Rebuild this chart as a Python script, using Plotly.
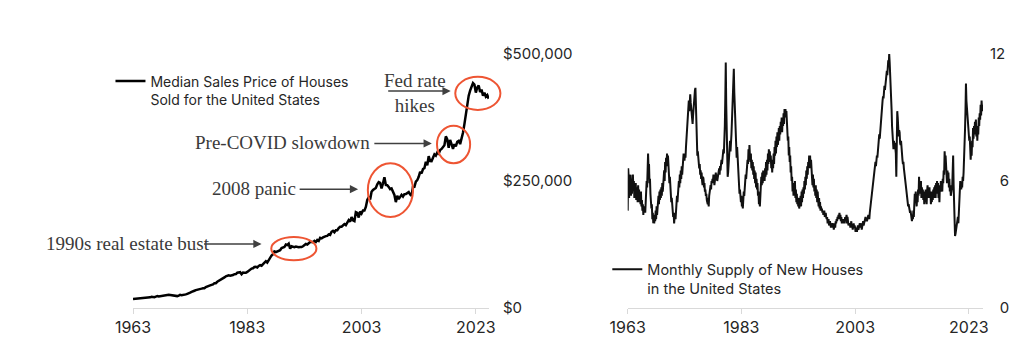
import numpy as np
import plotly.graph_objects as go

# ---------------- DATA ----------------
# Median Sales Price of Houses Sold for the United States (quarterly, from 1963 Q1, USD)
price_start_year = 1963
price_usd = [
    17800, 18000, 17900, 18500,   # 1963
    18500, 18900, 18900, 19400,   # 1964
    20200, 19800, 20200, 20300,   # 1965
    21000, 22100, 21500, 21300,   # 1966
    22300, 23300, 22500, 23200,   # 1967
    23900, 25100, 25100, 25600,   # 1968
    25700, 25900, 25400, 24300,   # 1969
    23900, 24400, 23200, 23400,   # 1970
    24300, 25800, 25300, 25500,   # 1971
    26200, 26800, 27900, 28400,   # 1972
    30200, 31700, 33500, 34000,   # 1973
    35200, 35600, 36200, 37200,   # 1974
    38100, 39000, 38800, 41200,   # 1975
    42800, 44200, 44400, 45500,   # 1976
    46300, 48900, 48800, 51600,   # 1977
    53000, 55300, 56100, 57800,   # 1978
    60200, 62300, 64000, 64200,   # 1979
    63700, 64000, 64900, 66400,   # 1980
    66800, 69400, 69200, 70400,   # 1981
    66400, 69600, 69300, 69300,   # 1982
    71000, 73600, 74900, 77600,   # 1983
    78200, 80700, 81000, 79900,   # 1984
    82800, 84300, 83200, 86800,   # 1985
    88000, 92100, 89500, 94400,   # 1986
    97900, 103400, 106000, 111300,  # 1987
    110000, 111600, 113600, 113700,  # 1988
    118000, 118900, 120000, 124800,  # 1989
    123900, 126800, 117000, 121500,  # 1990
    120000, 119900, 121000, 120000,  # 1991
    119500, 120000, 120000, 121500,  # 1992
    123500, 126000, 125000, 127000,  # 1993
    130000, 130000, 129700, 132000,  # 1994
    130000, 133900, 132000, 138000,  # 1995
    137000, 139000, 141000, 141500,  # 1996
    142000, 145000, 144000, 150000,  # 1997
    152000, 149000, 153000, 153000,  # 1998
    157400, 160000, 160000, 163200,  # 1999
    165300, 163200, 168800, 172900,  # 2000
    169800, 179000, 172500, 171100,  # 2001
    188700, 187200, 178100, 190100,  # 2002
    186000, 191800, 191900, 198800,  # 2003
    212700, 217600, 213500, 228800,  # 2004
    232500, 233700, 236400, 243600,  # 2005
    247700, 246300, 235600, 245400,  # 2006
    257400, 242200, 241800, 238400,  # 2007
    233900, 235300, 226500, 222500,  # 2008
    208400, 220900, 214300, 219000,  # 2009
    222900, 219500, 224100, 224300,  # 2010
    226900, 228100, 223500, 221100,  # 2011
    238400, 238700, 248800, 251700,  # 2012
    258400, 268100, 264800, 273600,  # 2013
    275200, 288000, 281000, 298900,  # 2014
    289200, 289100, 295800, 302500,  # 2015
    299800, 306000, 303800, 310900,  # 2016
    313100, 318200, 320500, 337900,  # 2017
    331800, 315600, 330900, 322800,  # 2018
    313000, 322500, 318400, 327100,  # 2019
    329000, 322600, 331500, 345000,  # 2020
    362000, 380000, 405000, 418000,  # 2021
    428000, 437000, 443000, 440000,  # 2022
    424000, 434000, 438000, 425000,  # 2023
    430000, 418000, 424000, 416000,  # 2024
    419000, 412000,                  # 2025
]

# Monthly Supply of New Houses in the United States (months, monthly from Jan 1963)
supply_start_year = 1963
supply_months = [
    4.6, 6.6, 6.2, 5.2, 6.1, 5.5, 6.3, 5.3, 6.1, 5.4, 5.8, 6.3,   # 1963
    5.6, 6.0, 5.2, 5.8, 5.4, 5.9, 5.1, 5.7, 5.5, 5.0, 5.8, 5.2,   # 1964
    5.6, 5.0, 5.4, 4.9, 5.5, 4.8, 5.1, 4.6, 4.9, 4.4, 4.8, 4.5,   # 1965
    4.8, 4.5, 5.3, 5.0, 6.0, 5.7, 7.0, 7.3, 6.6, 6.8, 5.9, 6.1,   # 1966
    5.4, 5.2, 4.7, 4.9, 4.2, 4.5, 4.0, 4.3, 4.0, 4.4, 4.1, 4.6,   # 1967
    4.2, 4.8, 4.4, 5.0, 4.7, 5.3, 4.9, 5.5, 5.1, 5.6, 5.2, 5.7,   # 1968
    5.3, 5.9, 5.5, 6.2, 5.8, 6.5, 6.0, 6.9, 6.4, 7.1, 6.7, 7.3,   # 1969
    6.8, 7.2, 6.3, 6.7, 5.9, 6.2, 5.5, 5.8, 5.0, 5.2, 4.6, 4.8,   # 1970
    4.3, 4.5, 4.0, 4.3, 4.5, 4.2, 4.9, 4.7, 5.3, 5.0, 5.7, 5.5,   # 1971
    6.0, 5.7, 6.3, 5.9, 6.5, 6.1, 6.7, 6.3, 6.9, 6.6, 7.3, 7.0,   # 1972
    7.0, 7.3, 7.1, 7.6, 7.9, 8.2, 8.6, 9.0, 9.4, 9.8, 9.3, 9.7,   # 1973
    10.1, 9.7, 9.4, 9.0, 8.8, 8.7, 9.1, 9.5, 9.8, 10.0, 10.3, 10.4,  # 1974
    9.6, 8.4, 7.9, 7.2, 7.4, 6.9, 7.0, 6.6, 6.8, 6.3, 6.5, 6.1,   # 1975
    6.4, 6.0, 5.8, 6.2, 6.1, 5.7, 5.9, 5.5, 5.6, 5.3, 5.4, 5.1,   # 1976
    5.0, 4.9, 5.2, 4.8, 5.3, 5.5, 5.4, 5.8, 5.6, 6.0, 5.9, 6.1,   # 1977
    6.0, 6.3, 6.1, 5.8, 6.0, 6.2, 6.4, 6.1, 6.3, 6.0, 6.2, 6.5,   # 1978
    6.4, 6.6, 6.3, 6.7, 6.5, 6.8, 7.0, 6.8, 7.2, 7.1, 7.5, 7.3,   # 1979
    7.8, 8.6, 9.9, 11.6, 9.6, 8.1, 7.0, 6.2, 6.4, 6.9, 7.3, 7.6,  # 1980
    7.9, 7.4, 7.7, 8.2, 8.8, 9.4, 9.9, 10.6, 11.3, 10.2, 9.5, 9.1,  # 1981
    8.4, 7.4, 7.1, 7.6, 7.0, 6.6, 6.2, 5.7, 5.4, 5.6, 5.2, 5.0,   # 1982
    5.3, 4.8, 5.0, 4.7, 5.2, 5.5, 5.3, 6.0, 5.8, 6.3, 6.1, 6.6,   # 1983
    6.4, 7.0, 6.8, 7.5, 7.0, 7.7, 7.2, 6.9, 7.3, 6.6, 7.0, 6.5,   # 1984
    6.9, 6.3, 6.7, 6.1, 6.5, 5.9, 6.4, 5.7, 6.1, 5.6, 5.9, 5.3,   # 1985
    5.5, 4.9, 5.2, 4.8, 5.7, 5.4, 6.2, 5.8, 6.4, 5.9, 6.5, 6.1,   # 1986
    6.4, 6.0, 6.6, 6.2, 6.9, 6.3, 7.0, 6.5, 7.3, 6.8, 7.5, 7.0,   # 1987
    7.4, 6.9, 7.2, 6.6, 7.0, 6.4, 6.9, 6.6, 7.3, 6.8, 7.6, 7.2,   # 1988
    7.9, 7.3, 8.1, 7.6, 8.3, 7.7, 8.0, 8.5, 7.9, 8.6, 8.2, 8.8,   # 1989
    8.5, 9.0, 8.3, 8.9, 8.6, 9.2, 8.7, 9.4, 9.0, 9.4, 9.1, 9.3,   # 1990
    8.6, 8.9, 7.9, 8.1, 7.2, 7.6, 6.9, 7.2, 6.4, 6.7, 6.0, 6.2,   # 1991
    5.5, 5.9, 5.3, 5.8, 5.4, 6.0, 5.2, 5.6, 5.0, 5.4, 4.9, 5.2,   # 1992
    4.8, 5.2, 4.7, 5.1, 4.9, 5.3, 4.8, 5.5, 5.0, 5.6, 5.2, 5.7,   # 1993
    5.4, 6.0, 5.6, 6.2, 5.8, 6.5, 6.1, 6.7, 6.3, 6.9, 6.6, 7.2,   # 1994
    6.9, 7.2, 6.6, 7.0, 6.3, 6.6, 5.8, 6.3, 5.7, 6.1, 5.5, 5.8,   # 1995
    5.3, 5.8, 5.2, 5.6, 5.0, 5.5, 5.1, 4.8, 5.2, 4.7, 5.0, 4.6,   # 1996
    4.8, 4.6, 4.7, 4.5, 4.6, 4.4, 4.5, 4.6, 4.3, 4.4, 4.5, 4.3,   # 1997
    4.2, 4.3, 4.0, 4.1, 4.2, 3.9, 4.0, 4.1, 3.9, 3.8, 4.0, 3.9,   # 1998
    3.8, 3.9, 4.0, 3.7, 3.9, 4.0, 3.8, 4.1, 4.0, 4.2, 4.1, 4.3,   # 1999
    4.2, 4.4, 4.3, 4.5, 4.2, 4.4, 4.1, 4.3, 4.0, 4.2, 4.1, 4.0,   # 2000
    4.1, 4.2, 4.0, 4.3, 4.1, 4.2, 4.4, 4.0, 4.3, 4.1, 3.9, 4.0,   # 2001
    3.9, 4.0, 3.8, 3.9, 4.1, 3.8, 3.9, 3.7, 3.9, 4.0, 3.8, 3.9,   # 2002
    3.8, 3.6, 3.7, 3.8, 3.6, 3.8, 3.9, 3.7, 3.8, 3.9, 4.0, 3.8,   # 2003
    3.9, 4.0, 3.7, 3.8, 4.0, 4.1, 3.9, 4.1, 4.0, 4.2, 4.3, 4.1,   # 2004
    4.2, 4.1, 4.3, 4.2, 4.4, 4.3, 4.2, 4.5, 4.7, 4.6, 4.9, 5.1,   # 2005
    5.3, 5.6, 5.7, 5.9, 6.2, 6.5, 6.7, 6.9, 6.7, 7.0, 7.2, 7.1,   # 2006
    7.4, 7.7, 7.9, 8.2, 8.0, 8.4, 8.6, 9.0, 9.2, 9.5, 9.8, 10.0,  # 2007
    9.9, 10.2, 10.5, 10.3, 10.6, 10.9, 11.0, 11.2, 11.0, 11.4, 11.7, 11.5,  # 2008
    12.0, 11.6, 11.2, 10.6, 10.1, 9.4, 8.6, 8.0, 7.7, 7.5, 7.9, 7.6,  # 2009
    7.8, 7.5, 7.3, 6.2, 8.4, 9.3, 9.0, 8.6, 8.1, 8.4, 8.3, 7.8,   # 2010
    7.7, 7.9, 7.3, 7.1, 7.0, 6.8, 6.9, 6.6, 6.3, 6.1, 6.0, 5.8,   # 2011
    5.6, 5.3, 5.0, 5.1, 4.8, 4.9, 4.7, 4.6, 4.5, 4.6, 4.4, 4.3,   # 2012
    4.1, 4.4, 4.2, 4.6, 4.3, 4.9, 5.4, 5.0, 5.5, 5.1, 4.8, 5.3,   # 2013
    5.0, 5.6, 5.3, 6.2, 5.5, 5.9, 5.4, 6.0, 5.2, 5.7, 5.3, 5.6,   # 2014
    5.1, 5.5, 4.9, 5.4, 5.0, 5.6, 5.2, 4.9, 5.5, 5.8, 5.2, 5.6,   # 2015
    5.3, 5.7, 5.2, 5.5, 4.9, 5.4, 5.0, 5.5, 5.1, 5.6, 5.2, 5.7,   # 2016
    5.4, 5.8, 5.2, 5.9, 5.4, 6.0, 5.5, 5.9, 5.2, 5.6, 5.0, 5.8,   # 2017
    5.5, 6.0, 5.6, 5.9, 5.5, 6.1, 5.9, 6.5, 6.3, 7.4, 6.9, 7.2,   # 2018
    6.4, 6.8, 5.9, 6.5, 6.0, 6.4, 5.7, 6.1, 5.5, 5.8, 5.3, 5.6,   # 2019
    5.6, 5.7, 6.7, 7.2, 5.8, 4.6, 3.7, 3.4, 3.5, 3.7, 4.0, 4.2,   # 2020
    4.1, 4.3, 4.0, 4.5, 5.0, 5.5, 6.0, 5.8, 5.6, 5.9, 5.7, 6.2,   # 2021
    6.0, 6.4, 6.9, 7.8, 8.4, 9.3, 10.6, 9.8, 9.5, 9.1, 8.6, 8.3,  # 2022
    8.3, 7.9, 8.1, 7.4, 7.0, 7.6, 7.2, 7.9, 7.6, 8.5, 8.0, 8.6,   # 2023
    8.2, 8.8, 8.3, 8.9, 8.1, 8.6, 7.9, 8.5, 8.2, 9.0, 8.6, 9.2,   # 2024
    8.9, 9.6, 9.1, 9.8, 9.4, 9.6, 9.3,                             # 2025
]

year_ticks = [1963, 1983, 2003, 2023]
price_ticks = [0, 250000, 500000]
supply_ticks = [0, 6, 12]
supply_tick_text = ["\u20070", "\u20076", "12"]

price_name = "Median Sales Price of Houses<br>Sold for the United States"
supply_name = "Monthly Supply of New Houses<br>in the United States"

# callouts: (label, arrow tip year, arrow tip value)
callouts = [
    ("1990s real estate bust", 1985.5, 126000),
    ("2008 panic", 2002.4, 234000),
    ("Pre-COVID slowdown", 2015.3, 324000),
    ("Fed rate<br>hikes", 2018.6, 427000),
]
# highlighted episodes: (year0, year1, value0, value1)
episodes = [
    (1987.2, 1995.1, 94000, 140000),
    (2004.1, 2012.0, 179000, 285000),
    (2016.2, 2022.0, 285000, 359000),
    (2019.4, 2027.3, 390000, 455000),
]

# ---------------- FIGURE ----------------
price_x = price_start_year + np.arange(len(price_usd)) / 4.0
supply_x = supply_start_year + np.arange(len(supply_months)) / 12.0

L_DOM = [0.0, 0.4188]
R_DOM = [0.582, 1.0]
L_RNG = [1963, 2025.3]
R_RNG = [1963, 2025.5]
P_MAX = 500000

SANS = "Inter, 'Liberation Sans', Arial, sans-serif"
SERIF = "'Liberation Serif', 'DejaVu Serif', serif"
TXT = "#262626"
AXIS = "#d9d9d9"
RED = "#EE5533"

fig = go.Figure()
fig.add_trace(go.Scatter(x=price_x, y=price_usd, mode="lines", name=price_name,
                         line=dict(color="black", width=2.5), xaxis="x", yaxis="y",
                         legend="legend"))
fig.add_trace(go.Scatter(x=supply_x, y=supply_months, mode="lines", name=supply_name,
                         line=dict(color="#111111", width=2.0), xaxis="x2", yaxis="y2",
                         legend="legend2"))

xcommon = dict(tickmode="array", tickvals=year_ticks, ticktext=[str(t) for t in year_ticks],
               showline=True, linecolor=AXIS, linewidth=1, ticks="outside", ticklen=5,
               tickcolor=AXIS, showgrid=False, zeroline=False,
               tickfont=dict(family=SANS, size=16, color=TXT), ticklabelstandoff=0)

# the page body adds an 8px offset; margins compensate so the plot sits where it should
fig.update_layout(
    width=1024, height=363,
    margin=dict(l=125, r=49, t=46, b=63),
    paper_bgcolor="white", plot_bgcolor="white",
    xaxis=dict(domain=L_DOM, range=L_RNG, anchor="y", **xcommon),
    xaxis2=dict(domain=R_DOM, range=R_RNG, anchor="y2", **xcommon),
    yaxis=dict(domain=[0, 1], range=[0, P_MAX], side="right", anchor="x",
               tickmode="array", tickvals=price_ticks, tickformat="$,.0f",
               showgrid=False, zeroline=False, showline=False, ticks="",
               tickfont=dict(family=SANS, size=15, color=TXT), ticklabelstandoff=13),
    yaxis2=dict(domain=[0, 1], range=[0, 12], side="right", anchor="x2",
                tickmode="array", tickvals=supply_ticks, ticktext=supply_tick_text,
                showgrid=False, zeroline=False, showline=False, ticks="",
                tickfont=dict(family=SANS, size=15, color=TXT), ticklabelstandoff=6),
    legend=dict(x=-0.0265, y=0.955, xanchor="left", yanchor="top", valign="top",
                bgcolor="rgba(0,0,0,0)", borderwidth=0,
                font=dict(family=SANS, size=14, color=TXT)),
    legend2=dict(x=0.558, y=0.215, xanchor="left", yanchor="top", valign="top",
                 bgcolor="rgba(0,0,0,0)", borderwidth=0,
                 font=dict(family=SANS, size=14.5, color=TXT)),
    showlegend=True,
)


def px_x(year):
    return L_DOM[0] + (year - L_RNG[0]) / (L_RNG[1] - L_RNG[0]) * (L_DOM[1] - L_DOM[0])


def px_y(value):
    return value / P_MAX


# episode ellipses
for (y0, y1, v0, v1) in episodes:
    fig.add_shape(type="circle", xref="paper", yref="paper",
                  x0=px_x(y0), x1=px_x(y1), y0=px_y(v0), y1=px_y(v1),
                  line=dict(color=RED, width=2))

# callout text (paper positions) and arrows
text_pos = [
    (-0.105, 0.2547, "left"),
    (0.0902, 0.4724, "left"),
    (0.0706, 0.6508, "left"),
    (0.3322, 0.8453, "center"),
]
arrow_len = [59, 60, 59, 64]
for (label, ty, tv), (tx, tyy, anc), alen in zip(callouts, text_pos, arrow_len):
    fig.add_annotation(text=label, xref="paper", yref="paper", x=tx, y=tyy,
                       xanchor=anc, yanchor="middle", align="center", showarrow=False,
                       font=dict(family=SERIF, size=19, color="#3a3a3a"))
    fig.add_annotation(text="", xref="paper", yref="paper", x=px_x(ty), y=px_y(tv),
                       ax=-alen, ay=0, axref="pixel", ayref="pixel", showarrow=True,
                       arrowhead=2, arrowsize=1.1, arrowwidth=1.5, arrowcolor="#404040")

fig.write_html("out.html")
